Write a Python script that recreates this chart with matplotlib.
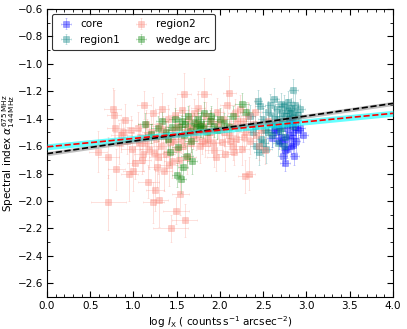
import matplotlib
matplotlib.use("Agg")
import matplotlib.pyplot as plt
import numpy as np
from matplotlib.colors import to_rgba
from matplotlib.ticker import MultipleLocator

# core
core_x = [2.62, 2.65, 2.68, 2.70, 2.72, 2.73, 2.75, 2.75, 2.76, 2.78, 2.80, 2.82, 2.83,
          2.84, 2.85, 2.85, 2.86, 2.87, 2.88, 2.90, 2.93, 2.96, 2.78, 2.68, 2.81, 2.60]
core_y = [-1.48, -1.50, -1.46, -1.53, -1.58, -1.67, -1.72, -1.63, -1.55, -1.47, -1.52, -1.60, -1.44,
          -1.54, -1.59, -1.50, -1.67, -1.46, -1.56, -1.48, -1.47, -1.52, -1.62, -1.56, -1.42, -1.54]
core_xerr = [0.06, 0.05, 0.07, 0.05, 0.06, 0.05, 0.06, 0.05, 0.07, 0.06, 0.05, 0.06, 0.05,
             0.06, 0.05, 0.07, 0.05, 0.06, 0.05, 0.06, 0.05, 0.06, 0.05, 0.06, 0.05, 0.06]
core_yerr = [0.06, 0.07, 0.05, 0.08, 0.06, 0.07, 0.06, 0.08, 0.06, 0.05, 0.07, 0.06, 0.05,
             0.07, 0.06, 0.05, 0.07, 0.06, 0.08, 0.05, 0.06, 0.05, 0.07, 0.06, 0.05, 0.07]

# region1
r1_x = [2.35, 2.40, 2.42, 2.44, 2.46, 2.48, 2.50, 2.52, 2.53, 2.55, 2.57, 2.58, 2.60, 2.62,
        2.63, 2.64, 2.66, 2.67, 2.68, 2.70, 2.71, 2.72, 2.73, 2.74, 2.75, 2.76, 2.77, 2.78,
        2.79, 2.80, 2.81, 2.82, 2.83, 2.84, 2.85, 2.86, 2.87, 2.88, 2.90, 2.92, 2.45, 2.50,
        2.56, 2.60, 2.69, 2.38, 2.74]
r1_y = [-1.38, -1.45, -1.60, -1.27, -1.31, -1.55, -1.40, -1.48, -1.62, -1.35, -1.43, -1.30,
        -1.52, -1.38, -1.26, -1.45, -1.33, -1.58, -1.40, -1.29, -1.47, -1.36, -1.42, -1.31,
        -1.53, -1.38, -1.34, -1.44, -1.28, -1.40, -1.36, -1.32, -1.39, -1.45, -1.19, -1.35,
        -1.30, -1.41, -1.37, -1.33, -1.64, -1.58, -1.50, -1.44, -1.49, -1.50, -1.60]
r1_xerr = [0.06, 0.05, 0.07, 0.05, 0.06, 0.05, 0.06, 0.05, 0.07, 0.06, 0.05, 0.06, 0.05, 0.06,
           0.05, 0.07, 0.05, 0.06, 0.05, 0.06, 0.05, 0.06, 0.05, 0.06, 0.05, 0.06, 0.05, 0.06,
           0.05, 0.06, 0.05, 0.06, 0.05, 0.06, 0.05, 0.06, 0.05, 0.06, 0.05, 0.06, 0.06, 0.05,
           0.06, 0.05, 0.06, 0.06, 0.05]
r1_yerr = [0.08, 0.07, 0.09, 0.08, 0.07, 0.09, 0.08, 0.07, 0.10, 0.08, 0.07, 0.08, 0.09, 0.07,
           0.08, 0.07, 0.08, 0.09, 0.07, 0.08, 0.07, 0.08, 0.07, 0.08, 0.09, 0.07, 0.08, 0.07,
           0.08, 0.07, 0.08, 0.07, 0.08, 0.07, 0.08, 0.07, 0.08, 0.07, 0.08, 0.07, 0.10, 0.09,
           0.08, 0.07, 0.08, 0.08, 0.09]

# region2
r2_x = [0.59, 0.71, 0.71, 0.76, 0.77, 0.79, 0.80, 0.83, 0.88, 0.90, 0.95, 0.97, 0.98, 1.00,
        1.02, 0.93, 1.05, 1.08, 1.10, 1.12, 1.13, 1.15, 1.17, 1.18, 1.20, 1.22, 1.23, 1.25,
        1.26, 1.28, 1.30, 1.30, 1.32, 1.33, 1.35, 1.37, 1.38, 1.40, 1.42, 1.43, 1.45, 1.47,
        1.48, 1.49, 1.50, 1.52, 1.54, 1.55, 1.56, 1.58, 1.59, 1.60, 1.62, 1.64, 1.66, 1.68,
        1.70, 1.72, 1.75, 1.77, 1.80, 1.82, 1.84, 1.86, 1.88, 1.90, 1.93, 1.95, 1.97, 1.99,
        2.02, 2.04, 2.06, 2.08, 2.10, 2.11, 2.13, 2.15, 2.17, 2.19, 2.21, 2.23, 2.25, 2.27,
        2.29, 2.30, 2.32, 2.33, 2.35, 2.38, 2.40, 2.42, 2.45, 2.48, 2.52, 2.55,
        1.06, 1.16, 1.24, 1.34, 1.41, 1.46, 1.57, 1.63, 1.69, 1.74, 1.79, 1.87, 1.92, 1.98,
        2.05, 2.12, 2.20, 2.28, 1.11, 1.27, 0.86, 1.53, 1.83, 2.16]
r2_y = [-1.64, -1.68, -2.01, -1.33, -1.37, -1.47, -1.77, -1.58, -1.50, -1.41, -1.80, -1.48,
        -1.62, -1.78, -1.72, -1.56, -1.47, -1.53, -1.70, -1.30, -1.58, -1.44, -1.86, -1.62,
        -1.50, -1.36, -2.01, -1.92, -1.55, -1.68, -1.99, -1.45, -1.60, -1.33, -1.78, -1.52,
        -1.66, -1.40, -1.57, -2.20, -1.71, -1.48, -1.37, -2.07, -1.62, -1.45, -1.95, -1.55,
        -1.34, -1.22, -2.14, -1.50, -1.68, -1.40, -1.58, -1.47, -1.36, -1.53, -1.32, -1.60,
        -1.45, -1.22, -1.38, -1.55, -1.50, -1.42, -1.63, -1.68, -1.35, -1.48, -1.57, -1.40,
        -1.66, -1.30, -1.52, -1.21, -1.45, -1.60, -1.36, -1.55, -1.47, -1.33, -1.62, -1.42,
        -1.82, -1.50, -1.38, -1.80, -1.56, -1.44, -1.35, -1.52, -1.60, -1.48, -1.63, -1.42,
        -1.58, -1.52, -1.65, -1.48, -1.74, -1.56, -1.60, -1.46, -1.52, -1.43, -1.56, -1.50,
        -1.58, -1.44, -1.50, -1.56, -1.42, -1.53, -1.66, -1.75, -1.52, -1.70, -1.58, -1.64]
r2_xerr = [0.10, 0.12, 0.20, 0.10, 0.08, 0.10, 0.10, 0.10, 0.12, 0.08, 0.10, 0.10, 0.12, 0.12,
           0.10, 0.10, 0.10, 0.10, 0.10, 0.08, 0.10, 0.10, 0.12, 0.10, 0.10, 0.08, 0.12, 0.10,
           0.10, 0.10, 0.10, 0.10, 0.10, 0.08, 0.10, 0.10, 0.10, 0.08, 0.10, 0.20, 0.10, 0.08,
           0.08, 0.15, 0.10, 0.08, 0.10, 0.10, 0.08, 0.08, 0.15, 0.08, 0.10, 0.08, 0.10, 0.08,
           0.08, 0.10, 0.08, 0.10, 0.08, 0.08, 0.08, 0.10, 0.08, 0.08, 0.10, 0.10, 0.08, 0.08,
           0.08, 0.08, 0.10, 0.08, 0.08, 0.08, 0.08, 0.10, 0.08, 0.08, 0.08, 0.08, 0.08, 0.08,
           0.08, 0.08, 0.08, 0.08, 0.08, 0.08, 0.08, 0.08, 0.08, 0.06, 0.06, 0.06,
           0.10, 0.10, 0.10, 0.10, 0.10, 0.08, 0.08, 0.10, 0.08, 0.08, 0.10, 0.08, 0.08, 0.08,
           0.08, 0.08, 0.08, 0.08, 0.10, 0.10, 0.12, 0.10, 0.08, 0.08]
r2_yerr = [0.15, 0.15, 0.20, 0.15, 0.18, 0.12, 0.15, 0.15, 0.10, 0.12, 0.20, 0.10, 0.12, 0.15,
           0.12, 0.10, 0.12, 0.10, 0.10, 0.10, 0.12, 0.10, 0.12, 0.15, 0.12, 0.12, 0.15, 0.15,
           0.10, 0.12, 0.20, 0.10, 0.10, 0.12, 0.15, 0.10, 0.12, 0.10, 0.10, 0.10, 0.12, 0.10,
           0.12, 0.10, 0.10, 0.10, 0.15, 0.10, 0.12, 0.15, 0.12, 0.10, 0.12, 0.10, 0.10, 0.10,
           0.10, 0.10, 0.12, 0.12, 0.10, 0.12, 0.10, 0.10, 0.10, 0.10, 0.12, 0.10, 0.10, 0.10,
           0.10, 0.10, 0.12, 0.10, 0.10, 0.12, 0.10, 0.10, 0.10, 0.10, 0.10, 0.10, 0.12, 0.10,
           0.12, 0.10, 0.10, 0.12, 0.10, 0.10, 0.10, 0.10, 0.10, 0.10, 0.10, 0.10,
           0.12, 0.12, 0.12, 0.10, 0.15, 0.10, 0.10, 0.10, 0.10, 0.10, 0.10, 0.10, 0.10, 0.10,
           0.10, 0.10, 0.10, 0.10, 0.12, 0.15, 0.12, 0.12, 0.10, 0.10]

# wedge arc
wa_x = [1.13, 1.20, 1.28, 1.33, 1.38, 1.42, 1.45, 1.48, 1.50, 1.52, 1.53, 1.55, 1.56, 1.57,
        1.58, 1.60, 1.62, 1.63, 1.65, 1.68, 1.70, 1.72, 1.75, 1.77, 1.78, 1.80, 1.82, 1.85,
        1.88, 1.90, 1.93, 1.96, 2.00, 2.05, 2.10, 2.15, 2.25, 2.30, 1.40, 1.66]
wa_y = [-1.44, -1.51, -1.47, -1.42, -1.50, -1.64, -1.46, -1.40, -1.81, -1.61, -1.46, -1.84,
        -1.42, -1.75, -1.52, -1.44, -1.67, -1.38, -1.49, -1.71, -1.43, -1.46, -1.40, -1.45,
        -1.44, -1.47, -1.36, -1.50, -1.42, -1.38, -1.45, -1.48, -1.40, -1.43, -1.46, -1.38,
        -1.29, -1.35, -1.55, -1.56]
wa_xerr = [0.08, 0.07, 0.08, 0.07, 0.08, 0.07, 0.08, 0.07, 0.06, 0.08, 0.07, 0.06, 0.08, 0.06,
           0.07, 0.08, 0.07, 0.08, 0.07, 0.06, 0.08, 0.07, 0.08, 0.07, 0.08, 0.07, 0.08, 0.07,
           0.08, 0.07, 0.08, 0.07, 0.08, 0.07, 0.08, 0.07, 0.08, 0.07, 0.08, 0.07]
wa_yerr = [0.08, 0.07, 0.09, 0.07, 0.08, 0.10, 0.07, 0.08, 0.09, 0.10, 0.07, 0.10, 0.08, 0.09,
           0.07, 0.08, 0.09, 0.07, 0.08, 0.09, 0.07, 0.08, 0.07, 0.08, 0.09, 0.07, 0.08, 0.07,
           0.08, 0.07, 0.08, 0.07, 0.08, 0.07, 0.08, 0.07, 0.08, 0.07, 0.09, 0.08]

# fits: intercept, slope, band half width
fit_all = (-1.655, 0.0915, 0.015)
fit_r2 = (-1.605, 0.061, 0.022)

fig = plt.figure(figsize=(4.07, 3.29), dpi=100)
ax = fig.add_axes([0.1155, 0.097, 0.85, 0.876])

series = [
    ("core", core_x, core_y, core_xerr, core_yerr, "blue"),
    ("region1", r1_x, r1_y, r1_xerr, r1_yerr, "teal"),
    ("region2", r2_x, r2_y, r2_xerr, r2_yerr, "salmon"),
    ("wedge arc", wa_x, wa_y, wa_xerr, wa_yerr, "green"),
]
for name, x, y, xe, ye, c in series:
    ax.errorbar(x, y, xerr=xe, yerr=ye, fmt="s", ms=4.2, mew=0.5,
                mfc=to_rgba(c, 0.4), mec=to_rgba(c, 0.3), ecolor=to_rgba(c, 0.25),
                elinewidth=0.7, capsize=1, capthick=0.5, label=name)

xx = np.linspace(0, 4, 50)
b, m, w = fit_r2
ax.fill_between(xx, b + m * xx - w, b + m * xx + w, color="cyan", alpha=0.6, lw=0, zorder=4)
b, m, w = fit_all
ax.fill_between(xx, b + m * xx - w, b + m * xx + w, color="gray", alpha=0.5, lw=0, zorder=4)
ax.plot(xx, fit_all[0] + fit_all[1] * xx, "k--", lw=1.2, zorder=5)
ax.plot(xx, fit_r2[0] + fit_r2[1] * xx, "r--", lw=1.2, zorder=5)

ax.set_xlim(0, 4)
ax.set_ylim(-2.7, -0.6)
ax.xaxis.set_major_locator(MultipleLocator(0.5))
ax.xaxis.set_minor_locator(MultipleLocator(0.1))
ax.yaxis.set_major_locator(MultipleLocator(0.2))
ax.yaxis.set_minor_locator(MultipleLocator(0.1))
ax.tick_params(which="both", direction="in", top=True, right=True, labelsize=7.5, pad=3)
ax.tick_params(which="major", length=4)
ax.tick_params(which="minor", length=2)

ax.set_xlabel(r"$\log\,I_{\rm X}$ ( counts$\,$s$^{-1}$ arcsec$^{-2}$)", fontsize=7.5, labelpad=2)
ax.set_ylabel(r"Spectral index $\alpha^{675\,\rm MHz}_{144\,\rm MHz}$", fontsize=7.5, labelpad=0)

leg = ax.legend(loc="upper left", ncol=2, fontsize=7.5, frameon=True, edgecolor="black",
                handletextpad=0.6, handlelength=1.6, columnspacing=1.2, borderpad=0.5)
leg.get_frame().set_linewidth(0.8)

fig.savefig("out.png", dpi=100)
